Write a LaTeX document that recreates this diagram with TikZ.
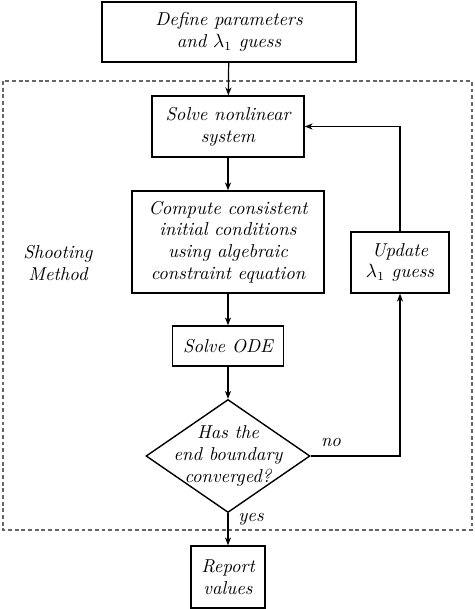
\documentclass[tikz,border=0pt]{standalone}
\usetikzlibrary{shapes.geometric,arrows.meta}
\newcommand{\stepfont}{\fontsize{10.6}{12.4}\selectfont\itshape}
\tikzset{
  box/.style={draw, line width=0.8pt, align=center, font=\stepfont, inner sep=0pt},
  decision/.style={draw, diamond, line width=0.8pt, inner sep=0pt, minimum width=32.8mm, minimum height=22.6mm},
  arr/.style={-{Stealth[length=4.5pt,width=3.5pt]}, line width=0.7pt},
}
\begin{document}
\begin{tikzpicture}[x=0.2mm,y=-0.2mm]
    \useasboundingbox (0,0) rectangle (474,609);
    % Shooting loop frame
    \draw[black!60, line width=0.8pt, dash pattern=on 2.2pt off 1.6pt] (3,81) rectangle (472,530);
    \node[font=\stepfont, align=center] (shoot) at (58,263) {Shooting\\Method};
    % Steps
    \node[box, minimum width=50.8mm, minimum height=12mm] (define) at (229,32) {Define parameters\\and $\lambda_1$ guess};
    \node[box, minimum width=30.4mm, minimum height=12.2mm] (solvenl) at (228,126.5) {Solve nonlinear\\system};
    \node[box, minimum width=38.4mm, minimum height=20.4mm] (compute) at (228,242) {Compute consistent\\initial conditions\\using algebraic\\constraint equation};
    \node[box, minimum width=22.2mm, minimum height=8mm] (ode) at (228,346) {Solve ODE};
    \node[decision] (check) at (228,456) {};
    \node[font=\stepfont, align=center] (checktext) at (check) {Has the\\end boundary\\converged?};
    \node[box, minimum width=19.6mm, minimum height=12.2mm] (update) at (400,262.5) {Update\\$\lambda_1$ guess};
    \node[box, minimum width=14.8mm, minimum height=12.4mm] (report) at (228,577) {Report\\values};
    % Arrows
    \draw[arr] (define) -- (solvenl);
    \draw[arr] (solvenl) -- (compute);
    \draw[arr] (compute) -- (ode);
    \draw[arr] (ode) -- (check);
    \draw[arr] (check) -- (report);
    \node[font=\stepfont] (yes) at (251,519) {yes};
    \draw[arr] (check.east) -| (update.south);
    \node[font=\stepfont] (no) at (331,442) {no};
    \draw[arr] (update.north) |- (solvenl.east);
\end{tikzpicture}
\end{document}
